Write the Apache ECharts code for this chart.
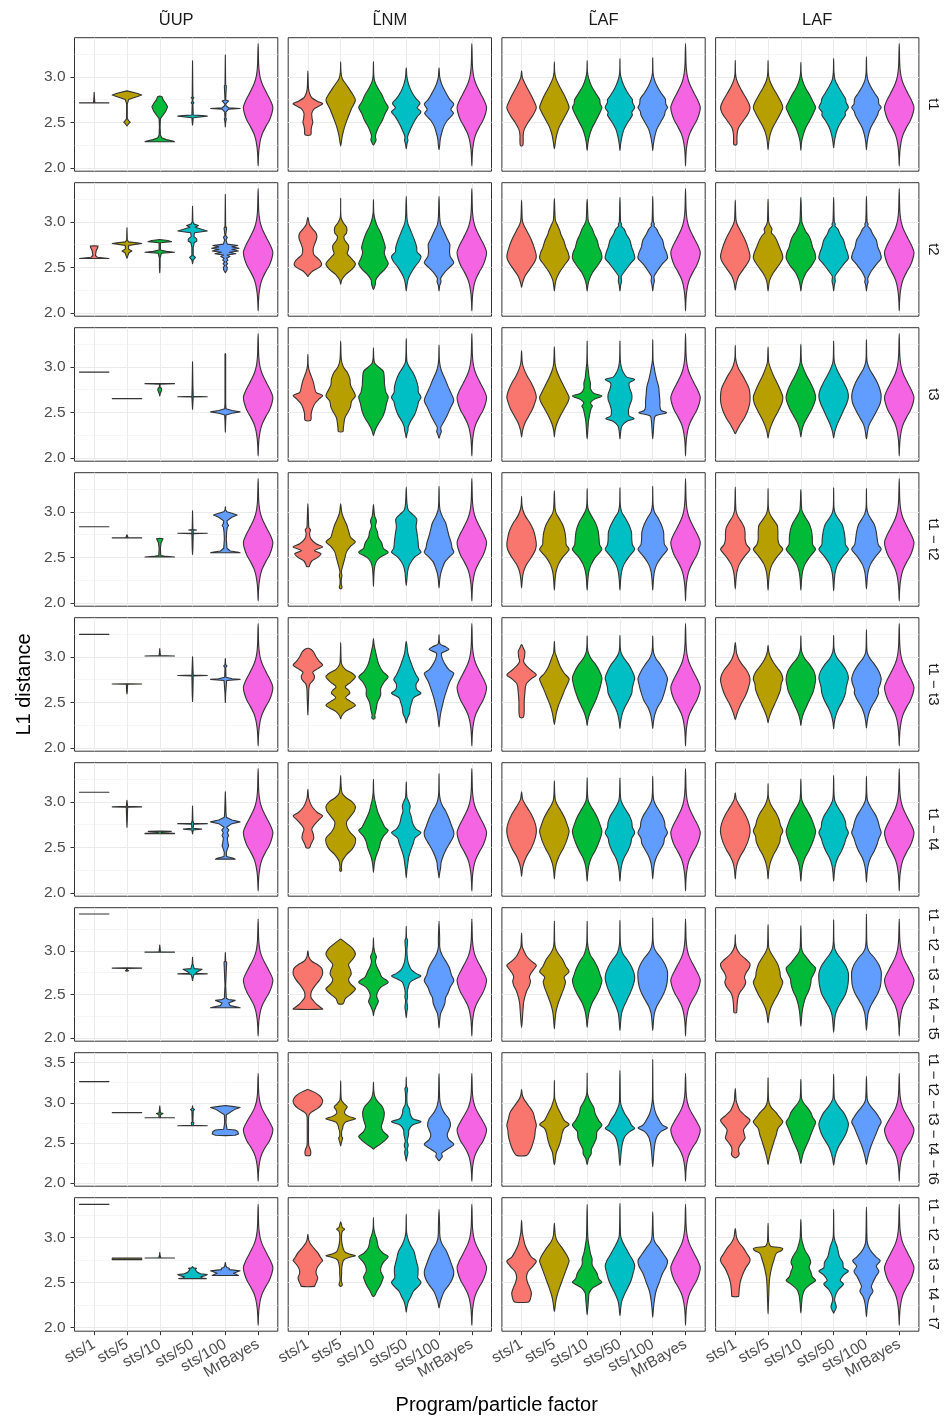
<!DOCTYPE html>
<html><head><meta charset="utf-8">
<script src="https://cdn.jsdelivr.net/npm/echarts@6/dist/echarts.min.js"></script>
<style>html,body{margin:0;padding:0;background:#fff}#c{width:947px;height:1418px}</style>
</head><body><div id="c"></div>
<script>
// ---------------- data ----------------
const categories = ['sts/1','sts/5','sts/10','sts/50','sts/100','MrBayes'];
const methods = ['\u0168UP','L\u0303NM','L\u0303AF','LAF'];
const rowLabels = ['t1','t2','t3','t1 \u2212 t2','t1 \u2212 t3','t1 \u2212 t4',
  't1 \u2212 t2 \u2212 t3 \u2212 t4 \u2212 t5','t1 \u2212 t2 \u2212 t3 \u2212 t4 \u2212 t6','t1 \u2212 t2 \u2212 t3 \u2212 t4 \u2212 t7'];
const yRange = [[1.963,3.43],[1.963,3.43],[1.963,3.43],[1.963,3.43],[1.963,3.43],[1.963,3.43],[1.961,3.495],[1.958,3.625],[1.956,3.44]];
const yTicks = [[2,2.5,3],[2,2.5,3],[2,2.5,3],[2,2.5,3],[2,2.5,3],[2,2.5,3],[2,2.5,3],[2,2.5,3,3.5],[2,2.5,3]];
const yMinorTicks = [2.25,2.75,3.25];
const xTicks = [1,2,3,4,5,6];

// each violin: [value, half-width (in category units)] from bottom to top
const mrBayes = [[2.022,0],[2.12,0.01],[2.2,0.025],[2.267,0.05],[2.32,0.08],[2.377,0.13],[2.45,0.23],[2.52,0.34],[2.6,0.42],[2.665,0.45],[2.72,0.4],[2.78,0.32],[2.85,0.22],[2.927,0.12],[3.0,0.06],[3.073,0.03],[3.15,0.015],[3.366,0]];

const t1_UUP = [
 [[2.714,0.45],[2.718,0.02],[2.76,0.01],[2.83,0]],
 [[2.46,0],[2.49,0.06],[2.5,0.1],[2.515,0.06],[2.54,0.01],[2.7,0.01],[2.75,0.05],[2.78,0.3],[2.8,0.45],[2.82,0.3],[2.846,0]],
 [[2.286,0.45],[2.295,0.4],[2.31,0.2],[2.33,0.06],[2.36,0.02],[2.45,0.01],[2.54,0.02],[2.57,0.08],[2.62,0.18],[2.67,0.24],[2.71,0.18],[2.75,0.1],[2.78,0.07],[2.79,0]],
 [[2.47,0],[2.5,0.01],[2.55,0.02],[2.562,0.3],[2.568,0.45],[2.574,0.3],[2.58,0.02],[2.7,0.01],[2.714,0.04],[2.73,0.01],[2.76,0.01],[2.77,0.04],[2.78,0.01],[3.176,0]],
 [[2.45,0],[2.5,0.01],[2.54,0.03],[2.55,0.01],[2.6,0.02],[2.61,0.01],[2.645,0.1],[2.652,0.45],[2.66,0.1],[2.68,0.03],[2.7,0.01],[2.735,0.1],[2.745,0.01],[2.9,0.03],[2.91,0.01],[3.24,0]]
];
const t1_LNM = [
 [[2.36,0.08],[2.38,0.1],[2.42,0.1],[2.46,0.12],[2.5,0.15],[2.54,0.13],[2.6,0.12],[2.65,0.2],[2.69,0.4],[2.707,0.45],[2.73,0.3],[2.77,0.12],[2.82,0.05],[2.87,0.02],[2.95,0.01],[3.066,0]],
 [[2.24,0],[2.28,0.02],[2.35,0.05],[2.45,0.12],[2.55,0.22],[2.65,0.33],[2.744,0.45],[2.8,0.38],[2.9,0.2],[2.98,0.05],[3.05,0.01],[3.165,0]],
 [[2.25,0],[2.28,0.05],[2.31,0.08],[2.34,0.06],[2.38,0.08],[2.45,0.16],[2.52,0.27],[2.6,0.36],[2.663,0.45],[2.72,0.36],[2.8,0.26],[2.88,0.13],[2.95,0.04],[3.02,0.01],[3.168,0]],
 [[2.21,0],[2.26,0.02],[2.3,0.05],[2.34,0.04],[2.4,0.1],[2.48,0.2],[2.56,0.33],[2.615,0.45],[2.66,0.33],[2.71,0.42],[2.76,0.3],[2.84,0.16],[2.92,0.07],[3.0,0.02],[3.1,0]],
 [[2.2,0],[2.25,0.02],[2.32,0.04],[2.38,0.08],[2.45,0.14],[2.52,0.25],[2.6,0.44],[2.64,0.36],[2.7,0.45],[2.75,0.33],[2.83,0.2],[2.92,0.08],[3.0,0.02],[3.1,0]]
];
const t1_LAFt = [
 [[2.24,0],[2.25,0.04],[2.3,0.05],[2.36,0.05],[2.42,0.08],[2.5,0.2],[2.58,0.35],[2.663,0.45],[2.74,0.37],[2.82,0.26],[2.9,0.14],[2.96,0.06],[3.0,0.02],[3.066,0]],
 [[2.21,0],[2.28,0.03],[2.36,0.07],[2.45,0.15],[2.55,0.3],[2.62,0.4],[2.663,0.45],[2.72,0.4],[2.8,0.3],[2.9,0.15],[2.98,0.05],[3.05,0.01],[3.165,0]],
 [[2.19,0],[2.26,0.02],[2.34,0.06],[2.43,0.14],[2.52,0.27],[2.6,0.38],[2.663,0.45],[2.7,0.4],[2.75,0.38],[2.82,0.26],[2.9,0.13],[2.98,0.05],[3.05,0.01],[3.18,0]],
 [[2.187,0],[2.26,0.02],[2.34,0.06],[2.42,0.12],[2.5,0.24],[2.58,0.38],[2.61,0.36],[2.663,0.45],[2.72,0.38],[2.75,0.38],[2.8,0.28],[2.88,0.15],[2.96,0.06],[3.04,0.01],[3.2,0]],
 [[2.187,0],[2.26,0.02],[2.34,0.06],[2.42,0.12],[2.5,0.24],[2.58,0.36],[2.62,0.38],[2.663,0.45],[2.7,0.4],[2.76,0.38],[2.82,0.26],[2.9,0.13],[2.97,0.05],[3.04,0.01],[3.21,0]]
];
const t1_LAF = [
 [[2.25,0],[2.26,0.05],[2.32,0.05],[2.38,0.06],[2.44,0.1],[2.52,0.25],[2.6,0.4],[2.663,0.45],[2.74,0.37],[2.82,0.24],[2.9,0.12],[2.97,0.04],[3.03,0.01],[3.18,0]],
 [[2.2,0],[2.28,0.02],[2.36,0.06],[2.44,0.14],[2.52,0.26],[2.6,0.38],[2.663,0.45],[2.72,0.4],[2.8,0.28],[2.88,0.15],[2.96,0.05],[3.04,0.01],[3.18,0]],
 [[2.19,0],[2.28,0.02],[2.36,0.07],[2.44,0.15],[2.52,0.27],[2.6,0.38],[2.663,0.45],[2.72,0.38],[2.8,0.27],[2.88,0.14],[2.96,0.05],[3.04,0.01],[3.16,0]],
 [[2.22,0],[2.28,0.02],[2.36,0.06],[2.44,0.13],[2.52,0.25],[2.58,0.36],[2.61,0.35],[2.663,0.45],[2.72,0.38],[2.76,0.36],[2.82,0.26],[2.9,0.13],[2.97,0.04],[3.05,0.01],[3.2,0]],
 [[2.2,0],[2.28,0.02],[2.36,0.06],[2.44,0.13],[2.52,0.25],[2.58,0.34],[2.62,0.37],[2.663,0.45],[2.7,0.38],[2.76,0.36],[2.82,0.25],[2.9,0.12],[2.97,0.04],[3.05,0.01],[3.22,0]]
];

const t2_UUP = [
 [[2.597,0.45],[2.603,0.3],[2.61,0.1],[2.63,0.04],[2.68,0.06],[2.72,0.11],[2.735,0.12],[2.737,0]],
 [[2.6,0],[2.62,0.02],[2.66,0.06],[2.68,0.15],[2.7,0.05],[2.74,0.05],[2.755,0.3],[2.762,0.45],[2.77,0.3],[2.78,0.05],[2.8,0.01],[2.934,0]],
 [[2.44,0],[2.5,0.01],[2.6,0.01],[2.655,0.05],[2.665,0.45],[2.675,0.2],[2.69,0.02],[2.77,0.02],[2.782,0.36],[2.795,0.25],[2.806,0]],
 [[2.54,0],[2.58,0.02],[2.61,0.09],[2.63,0.02],[2.72,0.02],[2.77,0.05],[2.79,0.13],[2.81,0.13],[2.84,0.04],[2.88,0.06],[2.9,0.45],[2.915,0.3],[2.94,0.08],[2.96,0.18],[2.975,0.05],[3.0,0.01],[3.17,0]],
 [[2.44,0],[2.47,0.05],[2.5,0.06],[2.52,0.02],[2.54,0.07],[2.56,0.02],[2.58,0.08],[2.6,0.04],[2.62,0.14],[2.635,0.05],[2.65,0.32],[2.665,0.12],[2.68,0.4],[2.695,0.2],[2.71,0.42],[2.725,0.2],[2.74,0.38],[2.755,0.06],[2.8,0.02],[2.83,0.06],[2.85,0.01],[2.93,0.04],[2.95,0.01],[3.3,0]]
];
const t2_LNM = [
 [[2.4,0],[2.42,0.04],[2.46,0.15],[2.5,0.35],[2.53,0.42],[2.57,0.38],[2.6,0.3],[2.64,0.18],[2.7,0.16],[2.75,0.2],[2.82,0.27],[2.87,0.26],[2.92,0.15],[2.97,0.05],[3.05,0]],
 [[2.315,0],[2.36,0.03],[2.42,0.15],[2.48,0.35],[2.54,0.45],[2.6,0.32],[2.65,0.2],[2.7,0.24],[2.74,0.24],[2.8,0.12],[2.84,0.1],[2.88,0.18],[2.94,0.18],[2.99,0.08],[3.05,0.01],[3.256,0]],
 [[2.256,0],[2.28,0.03],[2.32,0.06],[2.36,0.07],[2.42,0.18],[2.48,0.35],[2.54,0.45],[2.6,0.38],[2.66,0.33],[2.72,0.36],[2.8,0.3],[2.88,0.22],[2.95,0.12],[3.02,0.05],[3.1,0.01],[3.245,0]],
 [[2.24,0],[2.3,0.02],[2.36,0.05],[2.42,0.12],[2.5,0.25],[2.57,0.4],[2.62,0.45],[2.67,0.33],[2.72,0.32],[2.8,0.25],[2.9,0.14],[2.98,0.05],[3.05,0.02],[3.28,0]],
 [[2.24,0],[2.3,0.02],[2.34,0.06],[2.38,0.05],[2.44,0.16],[2.5,0.32],[2.55,0.45],[2.62,0.34],[2.68,0.32],[2.75,0.33],[2.82,0.24],[2.9,0.14],[2.97,0.05],[3.05,0.02],[3.28,0]]
];
const t2_LAFt = [
 [[2.28,0],[2.33,0.03],[2.4,0.1],[2.48,0.25],[2.56,0.4],[2.62,0.45],[2.7,0.4],[2.8,0.3],[2.9,0.16],[2.97,0.06],[3.03,0.02],[3.24,0]],
 [[2.24,0],[2.3,0.02],[2.36,0.05],[2.44,0.15],[2.52,0.3],[2.6,0.45],[2.66,0.42],[2.72,0.35],[2.8,0.28],[2.86,0.2],[2.9,0.17],[2.96,0.1],[3.02,0.03],[3.256,0]],
 [[2.24,0],[2.3,0.02],[2.36,0.06],[2.44,0.16],[2.52,0.32],[2.6,0.45],[2.66,0.43],[2.72,0.36],[2.8,0.3],[2.86,0.22],[2.92,0.16],[2.97,0.08],[3.02,0.03],[3.25,0]],
 [[2.24,0],[2.3,0.02],[2.35,0.05],[2.4,0.04],[2.46,0.15],[2.54,0.32],[2.6,0.45],[2.66,0.42],[2.72,0.36],[2.8,0.3],[2.86,0.2],[2.92,0.13],[2.955,0.04],[2.975,0.05],[3.0,0.02],[3.27,0]],
 [[2.24,0],[2.3,0.02],[2.35,0.05],[2.4,0.04],[2.46,0.14],[2.54,0.3],[2.6,0.45],[2.66,0.42],[2.72,0.35],[2.8,0.3],[2.86,0.2],[2.92,0.12],[2.955,0.04],[2.975,0.05],[3.0,0.02],[3.28,0]]
];
const t2_LAF = [
 [[2.25,0],[2.32,0.03],[2.4,0.1],[2.48,0.25],[2.56,0.4],[2.62,0.45],[2.7,0.4],[2.8,0.3],[2.9,0.16],[2.97,0.06],[3.03,0.02],[3.24,0]],
 [[2.24,0],[2.3,0.02],[2.36,0.05],[2.44,0.16],[2.52,0.32],[2.6,0.45],[2.66,0.42],[2.72,0.35],[2.8,0.26],[2.85,0.18],[2.88,0.1],[2.92,0.12],[2.96,0.06],[3.0,0.02],[3.25,0]],
 [[2.24,0],[2.3,0.02],[2.36,0.06],[2.44,0.16],[2.52,0.33],[2.6,0.45],[2.66,0.43],[2.72,0.36],[2.8,0.3],[2.86,0.22],[2.9,0.14],[2.95,0.08],[3.0,0.03],[3.27,0]],
 [[2.24,0],[2.3,0.02],[2.35,0.05],[2.4,0.04],[2.46,0.15],[2.54,0.32],[2.6,0.45],[2.66,0.42],[2.72,0.36],[2.8,0.3],[2.86,0.2],[2.92,0.13],[2.955,0.04],[2.975,0.05],[3.0,0.02],[3.27,0]],
 [[2.24,0],[2.3,0.02],[2.34,0.05],[2.38,0.04],[2.46,0.15],[2.54,0.32],[2.6,0.45],[2.66,0.42],[2.72,0.35],[2.8,0.3],[2.86,0.2],[2.92,0.12],[2.955,0.04],[2.975,0.05],[3.0,0.02],[3.28,0]]
];

const t3_UUP = [
 [[2.942,0.45],[2.9425,0.45]],
 [[2.651,0.45],[2.6515,0.45]],
 [[2.68,0],[2.7,0.01],[2.745,0.06],[2.765,0.05],[2.775,0.01],[2.81,0.01],[2.814,0.45],[2.816,0.45],[2.8165,0]],
 [[2.535,0],[2.6,0.01],[2.668,0.02],[2.672,0.45],[2.675,0.02],[2.8,0.01],[3.055,0]],
 [[2.284,0],[2.4,0.01],[2.47,0.02],[2.49,0.2],[2.505,0.45],[2.52,0.2],[2.54,0.02],[2.6,0.01],[3.14,0.01],[3.145,0]]
];
const t3_LNM = [
 [[2.41,0.08],[2.43,0.1],[2.48,0.1],[2.54,0.14],[2.6,0.22],[2.65,0.35],[2.685,0.45],[2.72,0.25],[2.78,0.2],[2.84,0.16],[2.9,0.1],[2.96,0.04],[3.02,0.01],[3.138,0]],
 [[2.29,0.07],[2.32,0.08],[2.38,0.1],[2.44,0.13],[2.5,0.22],[2.56,0.3],[2.62,0.33],[2.68,0.45],[2.74,0.38],[2.8,0.3],[2.87,0.28],[2.94,0.2],[3.0,0.08],[3.08,0.02],[3.284,0]],
 [[2.247,0],[2.28,0.03],[2.32,0.07],[2.38,0.16],[2.45,0.28],[2.52,0.35],[2.6,0.4],[2.67,0.45],[2.72,0.38],[2.8,0.34],[2.88,0.33],[2.95,0.3],[3.0,0.15],[3.04,0.04],[3.1,0.01],[3.21,0]],
 [[2.218,0],[2.26,0.02],[2.3,0.05],[2.34,0.06],[2.4,0.13],[2.48,0.26],[2.56,0.34],[2.62,0.38],[2.665,0.45],[2.72,0.37],[2.78,0.36],[2.86,0.3],[2.94,0.2],[3.0,0.09],[3.06,0.02],[3.31,0]],
 [[2.215,0],[2.25,0.03],[2.29,0.07],[2.33,0.05],[2.38,0.12],[2.46,0.24],[2.55,0.35],[2.63,0.45],[2.7,0.38],[2.78,0.28],[2.87,0.18],[2.94,0.09],[3.0,0.04],[3.08,0.01],[3.24,0]]
];
const t3_LAFt = [
 [[2.23,0],[2.3,0.03],[2.38,0.1],[2.46,0.22],[2.54,0.34],[2.62,0.42],[2.67,0.45],[2.74,0.4],[2.82,0.3],[2.9,0.17],[2.98,0.07],[3.05,0.02],[3.175,0]],
 [[2.23,0],[2.3,0.02],[2.38,0.08],[2.46,0.18],[2.54,0.3],[2.62,0.42],[2.665,0.45],[2.72,0.38],[2.8,0.27],[2.88,0.16],[2.96,0.07],[3.04,0.02],[3.22,0]],
 [[2.207,0],[2.3,0.02],[2.4,0.04],[2.48,0.08],[2.54,0.12],[2.57,0.16],[2.6,0.1],[2.64,0.2],[2.68,0.45],[2.71,0.2],[2.76,0.1],[2.82,0.1],[2.88,0.06],[2.95,0.04],[3.05,0.01],[3.284,0]],
 [[2.207,0],[2.28,0.02],[2.35,0.06],[2.4,0.2],[2.43,0.43],[2.46,0.28],[2.52,0.26],[2.58,0.3],[2.64,0.36],[2.7,0.36],[2.76,0.3],[2.82,0.28],[2.86,0.45],[2.89,0.2],[2.94,0.1],[3.0,0.04],[3.08,0.01],[3.284,0]],
 [[2.207,0],[2.3,0.02],[2.4,0.04],[2.46,0.08],[2.495,0.42],[2.52,0.26],[2.56,0.22],[2.62,0.22],[2.7,0.2],[2.78,0.18],[2.86,0.12],[2.94,0.07],[3.0,0.04],[3.07,0.01],[3.3,0]]
];
const t3_LAF = [
 [[2.265,0],[2.3,0.05],[2.36,0.14],[2.44,0.28],[2.52,0.38],[2.6,0.44],[2.68,0.45],[2.76,0.42],[2.84,0.32],[2.92,0.2],[2.98,0.1],[3.04,0.04],[3.1,0.01],[3.236,0]],
 [[2.218,0],[2.28,0.03],[2.36,0.1],[2.44,0.2],[2.52,0.32],[2.6,0.42],[2.67,0.45],[2.74,0.38],[2.82,0.28],[2.9,0.17],[2.98,0.08],[3.05,0.02],[3.218,0]],
 [[2.23,0],[2.3,0.03],[2.38,0.1],[2.46,0.22],[2.54,0.34],[2.62,0.43],[2.67,0.45],[2.74,0.4],[2.82,0.3],[2.9,0.18],[2.98,0.08],[3.05,0.02],[3.247,0]],
 [[2.218,0],[2.28,0.03],[2.36,0.1],[2.44,0.2],[2.52,0.3],[2.6,0.4],[2.67,0.45],[2.74,0.42],[2.82,0.32],[2.9,0.2],[2.97,0.1],[3.04,0.03],[3.1,0.01],[3.284,0]],
 [[2.207,0],[2.28,0.03],[2.36,0.08],[2.44,0.2],[2.52,0.32],[2.6,0.42],[2.67,0.45],[2.74,0.42],[2.82,0.34],[2.9,0.22],[2.97,0.1],[3.04,0.03],[3.1,0.01],[3.3,0]]
];

const t12_UUP = [
 [[2.836,0.45],[2.8365,0.45]],
 [[2.714,0.45],[2.718,0.03],[2.74,0.01],[2.748,0]],
 [[2.503,0.45],[2.51,0.2],[2.52,0.03],[2.6,0.02],[2.66,0.04],[2.69,0.08],[2.705,0.1],[2.71,0]],
 [[2.535,0],[2.6,0.01],[2.76,0.02],[2.764,0.45],[2.768,0.02],[2.795,0.02],[2.8,0.12],[2.805,0.01],[3.01,0]],
 [[2.55,0.45],[2.555,0.4],[2.57,0.15],[2.6,0.05],[2.7,0.03],[2.78,0.04],[2.83,0.06],[2.85,0.1],[2.87,0.06],[2.9,0.05],[2.94,0.2],[2.965,0.36],[2.985,0.2],[3.0,0.05],[3.02,0.01],[3.055,0]]
];
const t12_LNM = [
 [[2.4,0.04],[2.42,0.06],[2.46,0.12],[2.5,0.3],[2.54,0.4],[2.575,0.2],[2.615,0.45],[2.65,0.25],[2.7,0.1],[2.76,0.05],[2.8,0.08],[2.83,0.03],[2.9,0.02],[3.09,0]],
 [[2.153,0],[2.16,0.03],[2.18,0.04],[2.2,0.02],[2.26,0.02],[2.3,0.04],[2.34,0.02],[2.4,0.06],[2.48,0.12],[2.56,0.18],[2.62,0.3],[2.67,0.45],[2.72,0.3],[2.78,0.25],[2.86,0.18],[2.94,0.08],[3.0,0.03],[3.087,0]],
 [[2.18,0],[2.28,0.01],[2.38,0.03],[2.45,0.08],[2.5,0.2],[2.555,0.45],[2.6,0.3],[2.66,0.25],[2.72,0.15],[2.78,0.12],[2.84,0.06],[2.9,0.09],[2.95,0.04],[3.0,0.02],[3.08,0]],
 [[2.19,0],[2.26,0.02],[2.34,0.04],[2.42,0.1],[2.5,0.25],[2.555,0.45],[2.6,0.38],[2.68,0.36],[2.76,0.33],[2.84,0.3],[2.92,0.32],[2.97,0.2],[3.02,0.06],[3.1,0.02],[3.27,0]],
 [[2.164,0],[2.25,0.02],[2.32,0.05],[2.38,0.1],[2.45,0.18],[2.5,0.3],[2.555,0.45],[2.6,0.4],[2.66,0.37],[2.74,0.3],[2.8,0.26],[2.88,0.2],[2.95,0.1],[3.02,0.03],[3.1,0.01],[3.28,0]]
];
const t12_LAFt = [
 [[2.164,0],[2.25,0.02],[2.34,0.06],[2.42,0.15],[2.5,0.3],[2.58,0.42],[2.64,0.45],[2.72,0.42],[2.8,0.36],[2.88,0.25],[2.95,0.12],[3.02,0.04],[3.08,0.01],[3.17,0]],
 [[2.14,0],[2.25,0.02],[2.34,0.05],[2.42,0.12],[2.5,0.25],[2.56,0.4],[2.59,0.45],[2.64,0.36],[2.7,0.35],[2.78,0.32],[2.86,0.25],[2.92,0.16],[2.98,0.06],[3.04,0.02],[3.23,0]],
 [[2.14,0],[2.25,0.02],[2.34,0.05],[2.42,0.12],[2.5,0.25],[2.56,0.4],[2.59,0.45],[2.64,0.38],[2.72,0.36],[2.8,0.33],[2.88,0.25],[2.95,0.14],[3.02,0.04],[3.08,0.01],[3.255,0]],
 [[2.14,0],[2.25,0.02],[2.34,0.05],[2.42,0.12],[2.5,0.26],[2.56,0.4],[2.59,0.45],[2.64,0.38],[2.7,0.36],[2.78,0.35],[2.86,0.27],[2.94,0.15],[3.0,0.05],[3.08,0.01],[3.265,0]],
 [[2.14,0],[2.25,0.02],[2.34,0.05],[2.42,0.12],[2.5,0.26],[2.56,0.4],[2.59,0.45],[2.64,0.36],[2.7,0.34],[2.78,0.33],[2.86,0.26],[2.94,0.15],[3.0,0.05],[3.08,0.01],[3.28,0]]
];
const t12_LAF = [
 [[2.153,0],[2.25,0.02],[2.34,0.05],[2.42,0.12],[2.5,0.26],[2.56,0.4],[2.59,0.45],[2.64,0.34],[2.7,0.3],[2.76,0.3],[2.82,0.28],[2.88,0.2],[2.95,0.08],[3.02,0.02],[3.273,0]],
 [[2.14,0],[2.25,0.02],[2.34,0.05],[2.42,0.12],[2.5,0.26],[2.56,0.4],[2.59,0.45],[2.64,0.34],[2.7,0.3],[2.78,0.3],[2.85,0.28],[2.92,0.15],[2.98,0.05],[3.05,0.01],[3.255,0]],
 [[2.14,0],[2.25,0.02],[2.34,0.05],[2.42,0.12],[2.5,0.26],[2.56,0.4],[2.59,0.45],[2.64,0.36],[2.72,0.35],[2.8,0.32],[2.88,0.24],[2.95,0.12],[3.02,0.03],[3.244,0]],
 [[2.13,0],[2.25,0.02],[2.34,0.05],[2.42,0.12],[2.5,0.26],[2.56,0.4],[2.59,0.45],[2.64,0.36],[2.7,0.35],[2.78,0.32],[2.86,0.26],[2.92,0.15],[2.98,0.05],[3.05,0.01],[3.265,0]],
 [[2.153,0],[2.25,0.02],[2.34,0.05],[2.42,0.12],[2.5,0.26],[2.56,0.4],[2.59,0.45],[2.64,0.36],[2.7,0.33],[2.78,0.3],[2.86,0.24],[2.92,0.14],[2.98,0.05],[3.05,0.01],[3.255,0]]
];

const t13_UUP = [
 [[3.247,0.45],[3.2475,0.45]],
 [[2.593,0],[2.62,0.01],[2.698,0.02],[2.701,0.45],[2.703,0]],
 [[3.009,0.45],[3.013,0.02],[3.05,0.01],[3.09,0]],
 [[2.51,0],[2.6,0.01],[2.79,0.02],[2.795,0.45],[2.8,0.02],[2.9,0.01],[3.0,0]],
 [[2.498,0],[2.6,0.01],[2.74,0.04],[2.752,0.45],[2.758,0.2],[2.765,0.15],[2.775,0.02],[2.88,0.01],[2.9,0.05],[2.915,0.01],[2.982,0]]
];
const t13_LNM = [
 [[2.36,0],[2.45,0.01],[2.55,0.02],[2.65,0.03],[2.7,0.06],[2.75,0.18],[2.79,0.2],[2.83,0.15],[2.87,0.3],[2.91,0.45],[2.95,0.35],[3.0,0.25],[3.05,0.18],[3.08,0.1],[3.095,0]],
 [[2.32,0],[2.35,0.03],[2.4,0.15],[2.44,0.35],[2.47,0.45],[2.51,0.3],[2.55,0.15],[2.6,0.28],[2.63,0.25],[2.67,0.14],[2.72,0.3],[2.78,0.45],[2.82,0.35],[2.86,0.15],[2.92,0.03],[3.0,0.01],[3.156,0]],
 [[2.316,0],[2.33,0.05],[2.36,0.04],[2.42,0.08],[2.5,0.12],[2.58,0.22],[2.65,0.22],[2.72,0.32],[2.78,0.45],[2.84,0.28],[2.92,0.16],[3.0,0.1],[3.08,0.05],[3.13,0.02],[3.2,0]],
 [[2.27,0],[2.32,0.03],[2.38,0.1],[2.44,0.12],[2.5,0.17],[2.55,0.22],[2.6,0.45],[2.64,0.32],[2.7,0.3],[2.75,0.38],[2.8,0.3],[2.88,0.2],[2.96,0.12],[3.04,0.05],[3.17,0]],
 [[2.23,0],[2.3,0.02],[2.38,0.05],[2.46,0.1],[2.55,0.16],[2.65,0.25],[2.72,0.32],[2.79,0.42],[2.82,0.45],[2.86,0.3],[2.92,0.18],[2.98,0.1],[3.04,0.08],[3.08,0.3],[3.11,0.2],[3.14,0.03],[3.244,0]]
];
const t13_LAFt = [
 [[2.33,0.02],[2.34,0.06],[2.4,0.08],[2.5,0.08],[2.6,0.1],[2.7,0.14],[2.76,0.3],[2.8,0.45],[2.85,0.3],[2.9,0.15],[2.95,0.06],[3.0,0.09],[3.06,0.1],[3.1,0.05],[3.135,0]],
 [[2.255,0],[2.3,0.02],[2.38,0.06],[2.46,0.12],[2.55,0.22],[2.64,0.32],[2.72,0.42],[2.76,0.45],[2.82,0.3],[2.9,0.17],[3.0,0.07],[3.05,0.02],[3.17,0]],
 [[2.245,0],[2.3,0.02],[2.38,0.08],[2.46,0.18],[2.54,0.28],[2.62,0.36],[2.7,0.42],[2.77,0.45],[2.84,0.38],[2.92,0.25],[2.98,0.12],[3.04,0.04],[3.1,0.01],[3.23,0]],
 [[2.21,0],[2.28,0.02],[2.36,0.06],[2.44,0.14],[2.52,0.26],[2.6,0.36],[2.66,0.38],[2.72,0.42],[2.77,0.45],[2.84,0.38],[2.92,0.26],[2.98,0.13],[3.04,0.04],[3.1,0.01],[3.236,0]],
 [[2.21,0],[2.28,0.02],[2.36,0.06],[2.44,0.14],[2.52,0.27],[2.58,0.33],[2.64,0.38],[2.7,0.42],[2.76,0.45],[2.84,0.36],[2.92,0.22],[2.98,0.1],[3.04,0.03],[3.1,0.01],[3.23,0]]
];
const t13_LAF = [
 [[2.31,0],[2.36,0.04],[2.42,0.1],[2.5,0.2],[2.58,0.32],[2.66,0.4],[2.74,0.45],[2.8,0.42],[2.86,0.33],[2.92,0.2],[2.98,0.1],[3.04,0.04],[3.156,0]],
 [[2.276,0],[2.33,0.03],[2.4,0.1],[2.48,0.2],[2.56,0.3],[2.64,0.38],[2.7,0.4],[2.76,0.45],[2.82,0.4],[2.88,0.28],[2.94,0.16],[3.0,0.07],[3.06,0.02],[3.127,0]],
 [[2.245,0],[2.3,0.02],[2.38,0.08],[2.46,0.18],[2.54,0.28],[2.62,0.38],[2.7,0.43],[2.76,0.45],[2.84,0.4],[2.92,0.26],[2.98,0.12],[3.04,0.04],[3.1,0.01],[3.23,0]],
 [[2.21,0],[2.28,0.02],[2.36,0.07],[2.44,0.16],[2.52,0.28],[2.6,0.36],[2.66,0.38],[2.72,0.42],[2.77,0.45],[2.84,0.4],[2.92,0.26],[2.98,0.12],[3.04,0.04],[3.1,0.01],[3.236,0]],
 [[2.218,0],[2.28,0.02],[2.36,0.06],[2.44,0.14],[2.52,0.27],[2.6,0.37],[2.64,0.36],[2.7,0.42],[2.76,0.45],[2.84,0.38],[2.92,0.24],[2.98,0.11],[3.04,0.03],[3.1,0.01],[3.3,0]]
];

const t14_UUP = [
 [[3.105,0.45],[3.1055,0.45]],
 [[2.72,0],[2.8,0.01],[2.94,0.02],[2.945,0.45],[2.95,0.02],[3.018,0]],
 [[2.65,0.45],[2.655,0.45],[2.66,0.05],[2.67,0.05],[2.675,0.35],[2.68,0]],
 [[2.647,0],[2.69,0.02],[2.7,0.28],[2.71,0.02],[2.755,0.03],[2.76,0.45],[2.765,0.03],[2.8,0.01],[2.953,0]],
 [[2.37,0.3],[2.38,0.25],[2.4,0.04],[2.44,0.03],[2.47,0.05],[2.52,0.1],[2.55,0.08],[2.6,0.06],[2.63,0.1],[2.66,0.06],[2.69,0.11],[2.72,0.04],[2.76,0.2],[2.78,0.45],[2.8,0.2],[2.83,0.03],[2.88,0.02],[3.11,0]]
];
const t14_LNM = [
 [[2.49,0],[2.5,0.06],[2.54,0.1],[2.6,0.18],[2.65,0.16],[2.7,0.12],[2.75,0.2],[2.8,0.33],[2.845,0.45],[2.88,0.3],[2.94,0.14],[3.0,0.06],[3.05,0.02],[3.138,0]],
 [[2.236,0],[2.25,0.03],[2.28,0.02],[2.35,0.05],[2.42,0.18],[2.48,0.35],[2.54,0.44],[2.6,0.45],[2.66,0.3],[2.72,0.2],[2.78,0.18],[2.84,0.3],[2.9,0.42],[2.95,0.45],[3.0,0.35],[3.05,0.15],[3.1,0.04],[3.2,0.01],[3.29,0]],
 [[2.225,0],[2.3,0.02],[2.38,0.06],[2.44,0.12],[2.5,0.18],[2.56,0.22],[2.62,0.3],[2.685,0.45],[2.72,0.35],[2.8,0.24],[2.88,0.14],[2.96,0.08],[3.02,0.04],[3.1,0.01],[3.247,0]],
 [[2.164,0],[2.25,0.02],[2.33,0.05],[2.4,0.08],[2.48,0.15],[2.55,0.22],[2.6,0.26],[2.66,0.45],[2.7,0.3],[2.76,0.2],[2.84,0.15],[2.9,0.1],[2.95,0.12],[3.0,0.08],[3.05,0.02],[3.22,0]],
 [[2.164,0],[2.22,0.02],[2.28,0.05],[2.33,0.06],[2.4,0.12],[2.48,0.22],[2.56,0.35],[2.62,0.44],[2.67,0.45],[2.74,0.38],[2.82,0.3],[2.9,0.2],[2.96,0.1],[3.02,0.04],[3.1,0.01],[3.31,0]]
];
const t14_LAFt = [
 [[2.18,0],[2.25,0.02],[2.32,0.06],[2.4,0.15],[2.48,0.28],[2.56,0.38],[2.64,0.44],[2.7,0.45],[2.78,0.4],[2.86,0.3],[2.92,0.2],[2.98,0.1],[3.03,0.03],[3.11,0]],
 [[2.153,0],[2.24,0.02],[2.32,0.06],[2.4,0.14],[2.48,0.26],[2.56,0.36],[2.64,0.43],[2.68,0.45],[2.74,0.4],[2.82,0.32],[2.9,0.2],[2.96,0.1],[3.02,0.03],[3.1,0.01],[3.23,0]],
 [[2.127,0],[2.22,0.02],[2.3,0.05],[2.38,0.12],[2.46,0.24],[2.54,0.34],[2.62,0.42],[2.68,0.45],[2.74,0.4],[2.82,0.32],[2.9,0.2],[2.96,0.1],[3.02,0.03],[3.1,0.01],[3.265,0]],
 [[2.127,0],[2.22,0.02],[2.3,0.05],[2.38,0.12],[2.46,0.24],[2.54,0.33],[2.6,0.36],[2.66,0.45],[2.72,0.38],[2.78,0.36],[2.84,0.3],[2.9,0.2],[2.96,0.1],[3.02,0.03],[3.1,0.01],[3.262,0]],
 [[2.153,0],[2.24,0.02],[2.32,0.05],[2.4,0.12],[2.48,0.24],[2.54,0.33],[2.6,0.36],[2.66,0.45],[2.72,0.38],[2.78,0.36],[2.84,0.3],[2.9,0.2],[2.96,0.1],[3.02,0.03],[3.1,0.01],[3.28,0]]
];
const t14_LAF = [
 [[2.153,0],[2.24,0.02],[2.32,0.06],[2.4,0.15],[2.48,0.28],[2.56,0.38],[2.64,0.44],[2.7,0.45],[2.78,0.4],[2.86,0.3],[2.92,0.2],[2.98,0.1],[3.03,0.03],[3.1,0]],
 [[2.153,0],[2.24,0.02],[2.32,0.06],[2.4,0.14],[2.48,0.26],[2.56,0.36],[2.62,0.38],[2.68,0.45],[2.74,0.38],[2.8,0.34],[2.88,0.24],[2.94,0.13],[3.0,0.05],[3.06,0.01],[3.2,0]],
 [[2.127,0],[2.22,0.02],[2.3,0.05],[2.38,0.12],[2.46,0.24],[2.54,0.34],[2.62,0.42],[2.68,0.45],[2.74,0.4],[2.82,0.32],[2.9,0.2],[2.96,0.1],[3.02,0.03],[3.1,0.01],[3.25,0]],
 [[2.127,0],[2.22,0.02],[2.3,0.05],[2.38,0.12],[2.46,0.24],[2.54,0.33],[2.6,0.38],[2.66,0.45],[2.72,0.38],[2.78,0.36],[2.84,0.3],[2.9,0.2],[2.96,0.1],[3.02,0.03],[3.1,0.01],[3.29,0]],
 [[2.118,0],[2.22,0.02],[2.3,0.05],[2.38,0.12],[2.46,0.24],[2.54,0.33],[2.6,0.38],[2.66,0.45],[2.72,0.4],[2.78,0.36],[2.84,0.3],[2.9,0.2],[2.96,0.1],[3.02,0.03],[3.1,0.01],[3.28,0]]
];

const t5_UUP = [
 [[3.422,0.45],[3.4225,0.45]],
 [[2.765,0],[2.77,0.05],[2.778,0.01],[2.798,0.01],[2.801,0.45],[2.803,0]],
 [[2.984,0.45],[2.988,0.02],[3.03,0.01],[3.065,0]],
 [[2.658,0],[2.7,0.02],[2.73,0.05],[2.735,0.45],[2.742,0.1],[2.76,0.15],[2.787,0.29],[2.795,0.05],[2.85,0.01],[2.924,0]],
 [[2.345,0.45],[2.352,0.4],[2.37,0.15],[2.4,0.1],[2.43,0.3],[2.44,0.1],[2.455,0.03],[2.6,0.01],[2.87,0.04],[2.88,0.01],[2.98,0]]
];
const t5_LNM = [
 [[2.33,0.45],[2.345,0.4],[2.38,0.28],[2.42,0.18],[2.46,0.1],[2.5,0.09],[2.54,0.12],[2.6,0.22],[2.66,0.35],[2.72,0.44],[2.76,0.45],[2.8,0.42],[2.84,0.3],[2.88,0.12],[2.93,0.03],[3.0,0]],
 [[2.39,0.07],[2.41,0.1],[2.45,0.14],[2.5,0.3],[2.56,0.45],[2.62,0.3],[2.67,0.24],[2.73,0.32],[2.78,0.3],[2.84,0.24],[2.9,0.36],[2.96,0.45],[3.02,0.38],[3.08,0.2],[3.12,0.06],[3.135,0]],
 [[2.255,0],[2.3,0.02],[2.36,0.08],[2.42,0.15],[2.47,0.1],[2.52,0.12],[2.58,0.22],[2.64,0.45],[2.7,0.25],[2.76,0.18],[2.83,0.09],[2.88,0.06],[2.93,0.09],[2.98,0.04],[3.05,0.01],[3.148,0]],
 [[2.23,0],[2.3,0.02],[2.35,0.04],[2.42,0.02],[2.47,0.04],[2.52,0.03],[2.58,0.06],[2.64,0.12],[2.68,0.3],[2.71,0.45],[2.74,0.3],[2.78,0.16],[2.84,0.08],[2.9,0.04],[3.0,0.02],[3.12,0.04],[3.15,0.01],[3.28,0]],
 [[2.114,0],[2.2,0.02],[2.28,0.05],[2.34,0.12],[2.4,0.18],[2.46,0.2],[2.52,0.28],[2.58,0.34],[2.66,0.45],[2.72,0.38],[2.8,0.32],[2.86,0.24],[2.92,0.14],[2.98,0.06],[3.05,0.02],[3.14,0.02],[3.34,0]]
];
const t5_LAFt = [
 [[2.12,0],[2.2,0.02],[2.3,0.04],[2.4,0.06],[2.47,0.1],[2.54,0.16],[2.6,0.24],[2.65,0.27],[2.7,0.24],[2.75,0.3],[2.8,0.4],[2.835,0.45],[2.88,0.3],[2.94,0.15],[3.0,0.07],[3.05,0.02],[3.205,0]],
 [[2.103,0],[2.2,0.02],[2.3,0.05],[2.4,0.12],[2.5,0.22],[2.58,0.3],[2.64,0.34],[2.7,0.3],[2.76,0.45],[2.82,0.35],[2.9,0.25],[2.98,0.1],[3.04,0.03],[3.1,0.01],[3.342,0]],
 [[2.12,0],[2.2,0.02],[2.3,0.06],[2.4,0.15],[2.5,0.3],[2.58,0.4],[2.66,0.45],[2.72,0.4],[2.8,0.33],[2.88,0.22],[2.95,0.1],[3.02,0.04],[3.1,0.01],[3.34,0]],
 [[2.084,0],[2.18,0.02],[2.28,0.05],[2.36,0.12],[2.44,0.22],[2.52,0.32],[2.6,0.4],[2.68,0.45],[2.74,0.43],[2.82,0.35],[2.9,0.22],[2.96,0.1],[3.02,0.04],[3.1,0.01],[3.35,0]],
 [[2.084,0],[2.18,0.02],[2.28,0.05],[2.36,0.12],[2.44,0.24],[2.52,0.35],[2.6,0.42],[2.68,0.45],[2.76,0.45],[2.84,0.38],[2.92,0.25],[2.98,0.12],[3.04,0.04],[3.12,0.01],[3.38,0]]
];
const t5_LAF = [
 [[2.285,0],[2.29,0.04],[2.34,0.05],[2.4,0.06],[2.46,0.08],[2.52,0.14],[2.58,0.26],[2.64,0.32],[2.69,0.28],[2.74,0.32],[2.8,0.42],[2.85,0.45],[2.9,0.33],[2.96,0.15],[3.02,0.05],[3.08,0.01],[3.186,0]],
 [[2.17,0],[2.26,0.03],[2.34,0.08],[2.42,0.18],[2.5,0.3],[2.58,0.4],[2.64,0.45],[2.7,0.38],[2.76,0.36],[2.84,0.3],[2.92,0.18],[2.98,0.08],[3.04,0.02],[3.3,0]],
 [[2.133,0],[2.22,0.02],[2.3,0.04],[2.38,0.08],[2.46,0.14],[2.54,0.24],[2.62,0.3],[2.68,0.32],[2.74,0.4],[2.8,0.45],[2.86,0.3],[2.92,0.18],[2.98,0.06],[3.04,0.02],[3.29,0]],
 [[2.065,0],[2.16,0.02],[2.26,0.05],[2.34,0.12],[2.42,0.24],[2.5,0.36],[2.58,0.42],[2.66,0.45],[2.74,0.45],[2.82,0.38],[2.9,0.24],[2.96,0.12],[3.02,0.04],[3.1,0.01],[3.357,0]],
 [[2.087,0],[2.18,0.02],[2.28,0.05],[2.36,0.12],[2.44,0.24],[2.52,0.36],[2.6,0.43],[2.68,0.45],[2.76,0.45],[2.84,0.38],[2.92,0.24],[2.98,0.1],[3.04,0.03],[3.12,0.01],[3.42,0]]
];

const t6_UUP = [
 [[3.264,0.45],[3.2645,0.45]],
 [[2.876,0.45],[2.8765,0.45]],
 [[2.812,0.45],[2.816,0.02],[2.85,0.03],[2.865,0.1],[2.875,0.02],[2.96,0]],
 [[2.713,0.45],[2.717,0.02],[2.75,0.04],[2.76,0.01],[2.9,0.02],[2.915,0.06],[2.93,0.01],[2.963,0]],
 [[2.59,0],[2.595,0.3],[2.61,0.4],[2.64,0.38],[2.66,0.3],[2.67,0.05],[2.75,0.02],[2.85,0.03],[2.92,0.3],[2.94,0.45],[2.955,0.2],[2.965,0]]
];
const t6_LNM = [
 [[2.34,0.06],[2.35,0.08],[2.38,0.09],[2.42,0.07],[2.46,0.03],[2.5,0.02],[2.7,0.02],[2.84,0.03],[2.88,0.1],[2.93,0.3],[2.98,0.42],[3.03,0.45],[3.08,0.38],[3.12,0.25],[3.15,0.1],[3.165,0]],
 [[2.46,0],[2.5,0.02],[2.54,0.05],[2.56,0.06],[2.58,0.03],[2.64,0.03],[2.68,0.06],[2.72,0.08],[2.76,0.15],[2.8,0.45],[2.83,0.25],[2.87,0.12],[2.91,0.14],[2.95,0.2],[2.99,0.1],[3.04,0.02],[3.273,0]],
 [[2.42,0],[2.44,0.05],[2.48,0.2],[2.53,0.35],[2.58,0.45],[2.64,0.3],[2.7,0.24],[2.76,0.28],[2.82,0.32],[2.88,0.33],[2.95,0.27],[3.02,0.12],[3.08,0.04],[3.15,0.01],[3.26,0]],
 [[2.27,0],[2.32,0.02],[2.38,0.05],[2.42,0.03],[2.47,0.06],[2.52,0.03],[2.6,0.07],[2.66,0.08],[2.72,0.18],[2.765,0.45],[2.8,0.2],[2.86,0.12],[2.92,0.1],[2.98,0.03],[3.1,0.02],[3.18,0.04],[3.2,0.01],[3.32,0]],
 [[2.277,0],[2.3,0.05],[2.33,0.1],[2.37,0.08],[2.42,0.25],[2.48,0.45],[2.54,0.3],[2.6,0.25],[2.66,0.3],[2.72,0.35],[2.8,0.3],[2.88,0.15],[2.96,0.06],[3.05,0.02],[3.364,0]]
];
const t6_LAFt = [
 [[2.34,0.14],[2.36,0.2],[2.42,0.28],[2.5,0.35],[2.58,0.4],[2.66,0.42],[2.72,0.45],[2.8,0.4],[2.88,0.35],[2.96,0.22],[3.04,0.08],[3.1,0.02],[3.165,0]],
 [[2.227,0],[2.3,0.03],[2.38,0.06],[2.46,0.14],[2.54,0.2],[2.62,0.24],[2.68,0.3],[2.73,0.45],[2.78,0.3],[2.86,0.2],[2.94,0.1],[3.0,0.05],[3.06,0.01],[3.28,0]],
 [[2.227,0],[2.3,0.04],[2.36,0.12],[2.42,0.13],[2.48,0.2],[2.56,0.28],[2.64,0.3],[2.72,0.45],[2.78,0.35],[2.86,0.25],[2.94,0.2],[3.0,0.12],[3.06,0.05],[3.12,0.01],[3.372,0]],
 [[2.215,0],[2.3,0.02],[2.4,0.04],[2.5,0.08],[2.58,0.15],[2.64,0.3],[2.68,0.45],[2.72,0.35],[2.78,0.28],[2.86,0.15],[2.94,0.06],[3.0,0.02],[3.1,0.01],[3.405,0]],
 [[2.2,0],[2.3,0.02],[2.4,0.04],[2.5,0.07],[2.58,0.13],[2.64,0.25],[2.685,0.45],[2.72,0.3],[2.78,0.2],[2.86,0.1],[2.95,0.04],[3.05,0.01],[3.54,0]]
];
const t6_LAF = [
 [[2.31,0],[2.33,0.08],[2.36,0.12],[2.4,0.1],[2.45,0.12],[2.5,0.2],[2.56,0.3],[2.6,0.28],[2.66,0.25],[2.72,0.35],[2.78,0.45],[2.84,0.3],[2.9,0.15],[2.96,0.08],[3.02,0.03],[3.178,0]],
 [[2.227,0],[2.3,0.03],[2.38,0.08],[2.46,0.14],[2.54,0.2],[2.6,0.25],[2.68,0.3],[2.76,0.45],[2.82,0.35],[2.88,0.24],[2.94,0.1],[3.0,0.03],[3.08,0.01],[3.314,0]],
 [[2.24,0],[2.3,0.03],[2.38,0.08],[2.46,0.16],[2.54,0.25],[2.62,0.32],[2.68,0.38],[2.76,0.45],[2.82,0.36],[2.88,0.3],[2.94,0.2],[3.0,0.08],[3.06,0.02],[3.293,0]],
 [[2.22,0],[2.3,0.03],[2.38,0.08],[2.46,0.16],[2.54,0.28],[2.62,0.38],[2.7,0.44],[2.74,0.45],[2.8,0.4],[2.88,0.3],[2.94,0.18],[3.0,0.08],[3.06,0.02],[3.355,0]],
 [[2.227,0],[2.3,0.03],[2.38,0.08],[2.46,0.14],[2.54,0.22],[2.62,0.3],[2.7,0.38],[2.76,0.45],[2.82,0.38],[2.88,0.28],[2.94,0.16],[3.0,0.06],[3.06,0.02],[3.33,0]]
];

const t7_UUP = [
 [[3.365,0.45],[3.3655,0.45]],
 [[2.752,0.45],[2.768,0.45],[2.77,0]],
 [[2.769,0.45],[2.773,0.03],[2.8,0.01],[2.83,0]],
 [[2.54,0.42],[2.548,0.3],[2.56,0.25],[2.575,0.4],[2.585,0.45],[2.595,0.25],[2.61,0.15],[2.625,0.12],[2.64,0.08],[2.655,0.12],[2.66,0.03],[2.675,0]],
 [[2.575,0.4],[2.585,0.35],[2.6,0.25],[2.615,0.35],[2.627,0.45],[2.64,0.12],[2.655,0.12],[2.665,0.05],[2.68,0.02],[2.72,0]]
];
const t7_LNM = [
 [[2.454,0.2],[2.47,0.22],[2.51,0.27],[2.55,0.3],[2.6,0.25],[2.66,0.28],[2.72,0.4],[2.74,0.45],[2.78,0.38],[2.83,0.3],[2.88,0.18],[2.94,0.06],[2.98,0.02],[3.033,0]],
 [[2.454,0],[2.47,0.05],[2.49,0.04],[2.52,0.02],[2.6,0.03],[2.64,0.03],[2.7,0.05],[2.75,0.1],[2.78,0.3],[2.795,0.45],[2.81,0.3],[2.84,0.12],[2.9,0.06],[2.96,0.03],[3.04,0.03],[3.07,0.06],[3.09,0.12],[3.11,0.05],[3.173,0]],
 [[2.34,0],[2.36,0.05],[2.4,0.1],[2.46,0.2],[2.52,0.27],[2.56,0.3],[2.62,0.22],[2.68,0.24],[2.73,0.32],[2.785,0.45],[2.82,0.3],[2.88,0.16],[2.94,0.12],[2.98,0.1],[3.03,0.05],[3.1,0.01],[3.218,0]],
 [[2.166,0],[2.22,0.02],[2.28,0.06],[2.34,0.14],[2.4,0.22],[2.46,0.38],[2.5,0.45],[2.55,0.35],[2.6,0.36],[2.66,0.36],[2.72,0.32],[2.78,0.28],[2.84,0.24],[2.92,0.12],[3.0,0.04],[3.06,0.01],[3.255,0]],
 [[2.214,0],[2.27,0.03],[2.33,0.08],[2.4,0.16],[2.48,0.32],[2.55,0.42],[2.62,0.45],[2.7,0.38],[2.78,0.3],[2.85,0.22],[2.92,0.1],[2.98,0.04],[3.05,0.02],[3.1,0.02],[3.31,0]]
];
const t7_LAFt = [
 [[2.277,0.18],[2.29,0.24],[2.33,0.28],[2.38,0.3],[2.44,0.25],[2.5,0.18],[2.56,0.15],[2.62,0.2],[2.68,0.35],[2.735,0.45],[2.78,0.3],[2.84,0.2],[2.92,0.1],[3.0,0.05],[3.06,0.02],[3.19,0]],
 [[2.173,0],[2.22,0.02],[2.28,0.04],[2.35,0.08],[2.44,0.16],[2.54,0.26],[2.64,0.36],[2.7,0.42],[2.74,0.45],[2.8,0.38],[2.88,0.24],[2.95,0.1],[3.02,0.03],[3.155,0]],
 [[2.14,0],[2.22,0.02],[2.3,0.04],[2.38,0.06],[2.44,0.18],[2.5,0.45],[2.54,0.35],[2.6,0.3],[2.66,0.2],[2.7,0.15],[2.76,0.15],[2.82,0.1],[2.9,0.06],[3.0,0.02],[3.365,0]],
 [[2.13,0],[2.2,0.02],[2.28,0.05],[2.35,0.12],[2.44,0.24],[2.52,0.34],[2.6,0.4],[2.68,0.45],[2.74,0.4],[2.8,0.3],[2.88,0.18],[2.95,0.08],[3.02,0.02],[3.376,0]],
 [[2.11,0],[2.2,0.02],[2.3,0.05],[2.4,0.1],[2.5,0.2],[2.6,0.3],[2.68,0.42],[2.74,0.45],[2.8,0.35],[2.88,0.2],[2.95,0.06],[3.02,0.02],[3.284,0]]
];
const t7_LAF = [
 [[2.343,0.1],[2.36,0.11],[2.42,0.12],[2.5,0.15],[2.58,0.22],[2.66,0.32],[2.72,0.43],[2.76,0.45],[2.82,0.35],[2.88,0.25],[2.94,0.12],[3.0,0.04],[3.096,0]],
 [[2.148,0],[2.25,0.01],[2.35,0.02],[2.45,0.03],[2.55,0.05],[2.65,0.1],[2.75,0.18],[2.82,0.25],[2.85,0.4],[2.875,0.45],[2.89,0.3],[2.9,0.08],[2.95,0.02],[3.155,0]],
 [[2.159,0],[2.25,0.02],[2.35,0.05],[2.42,0.12],[2.48,0.3],[2.52,0.45],[2.56,0.35],[2.62,0.3],[2.67,0.25],[2.72,0.3],[2.78,0.25],[2.86,0.12],[2.94,0.05],[3.0,0.02],[3.2,0]],
 [[2.155,0],[2.18,0.03],[2.22,0.08],[2.26,0.06],[2.3,0.03],[2.36,0.06],[2.42,0.15],[2.48,0.3],[2.52,0.2],[2.58,0.3],[2.625,0.45],[2.66,0.3],[2.72,0.28],[2.78,0.18],[2.84,0.14],[2.9,0.1],[2.96,0.04],[3.02,0.01],[3.31,0]],
 [[2.118,0],[2.2,0.02],[2.28,0.05],[2.34,0.1],[2.4,0.2],[2.45,0.15],[2.5,0.2],[2.56,0.28],[2.62,0.38],[2.68,0.3],[2.74,0.42],[2.78,0.3],[2.84,0.15],[2.9,0.06],[2.96,0.02],[3.336,0]]
];

const panels = [
 [t1_UUP, t1_LNM, t1_LAFt, t1_LAF],
 [t2_UUP, t2_LNM, t2_LAFt, t2_LAF],
 [t3_UUP, t3_LNM, t3_LAFt, t3_LAF],
 [t12_UUP, t12_LNM, t12_LAFt, t12_LAF],
 [t13_UUP, t13_LNM, t13_LAFt, t13_LAF],
 [t14_UUP, t14_LNM, t14_LAFt, t14_LAF],
 [t5_UUP, t5_LNM, t5_LAFt, t5_LAF],
 [t6_UUP, t6_LNM, t6_LAFt, t6_LAF],
 [t7_UUP, t7_LNM, t7_LAFt, t7_LAF]
];

// ---------------- styling / layout ----------------
const colors = ['#F8766D','#B79F00','#00BA38','#00BFC4','#619CFF','#F564E3'];
const FONT = "'Liberation Sans', Arial, Helvetica, sans-serif";
const L0 = 74.5, DX = 213.7, T0 = 37.7, DY = 145, W = 203.3, H = 133.5;
const NR = 9, NC = 4;

function makeRenderer(shapes, sharp) {
  return function (params, api) {
    const i = params.dataIndex;
    const pts = i < 5 ? shapes[i] : mrBayes;
    const cx = api.value(0);
    const poly = [];
    for (let k = 0; k < pts.length; k++) poly.push(api.coord([cx + pts[k][1], pts[k][0]]));
    for (let k = pts.length - 1; k >= 0; k--) {
      if (pts[k][1] === 0) continue;
      poly.push(api.coord([cx - pts[k][1], pts[k][0]]));
    }
    return {
      type: 'polygon',
      shape: { points: poly, smooth: (sharp && i < 5) ? 0 : 0.3 },
      style: { fill: colors[i], stroke: '#333333', lineWidth: 1.1, lineJoin: 'round' }
    };
  };
}

const grid = [], xAxis = [], yAxis = [], series = [], graphic = [];
for (let r = 0; r < NR; r++) {
  for (let c = 0; c < NC; c++) {
    const g = r * NC + c;
    grid.push({ left: L0 + DX * c, top: T0 + DY * r, width: W, height: H,
      show: true, borderColor: '#333333', borderWidth: 1, backgroundColor: '#ffffff' });
    const bottom = r === NR - 1;
    xAxis.push({ type: 'value', gridIndex: g, min: 0.4, max: 6.6, splitNumber: 6,
      axisLine: { show: false },
      axisTick: { show: bottom, customValues: xTicks, length: 4, lineStyle: { color: '#333333', width: 1 } },
      axisLabel: { show: bottom, customValues: xTicks, formatter: v => categories[Math.round(v) - 1] || '',
        rotate: 30, margin: 12, fontSize: 15.5, color: '#4D4D4D', fontFamily: FONT },
      splitLine: { show: true, lineStyle: { color: '#EBEBEB', width: 1 } } });
    yAxis.push({ type: 'value', gridIndex: g, min: yRange[r][0], max: yRange[r][1], splitNumber: 3,
      axisLine: { show: false },
      axisTick: { show: c === 0, customValues: yTicks[r], length: 4, lineStyle: { color: '#333333', width: 1 } },
      axisLabel: { show: c === 0, customValues: yTicks[r], formatter: v => v.toFixed(1),
        margin: 9, fontSize: 15.5, color: '#4D4D4D', fontFamily: FONT },
      splitLine: { show: true, lineStyle: { color: '#EBEBEB', width: 1 } } });
    series.push({ type: 'custom', coordinateSystem: 'cartesian2d', xAxisIndex: g, yAxisIndex: g,
      silent: true, animation: false,
      data: categories.map((name, i) => [i + 1, 2.5]),
      renderItem: makeRenderer(panels[r][c], c === 0) });
  }
}
// minor horizontal grid lines
for (let r = 0; r < NR; r++) {
  for (let c = 0; c < NC; c++) {
    const g = r * NC + c;
    yAxis.push({ type: 'value', gridIndex: g, min: yRange[r][0], max: yRange[r][1], splitNumber: 3,
      axisLine: { show: false },
      axisTick: { show: false, customValues: yMinorTicks },
      axisLabel: { show: false, customValues: yMinorTicks },
      splitLine: { show: true, lineStyle: { color: '#F0F0F0', width: 0.6 } } });
  }
}

for (let c = 0; c < NC; c++) {
  graphic.push({ type: 'text', x: L0 + DX * c + W / 2, y: 20, silent: true,
    style: { text: methods[c], fill: '#1A1A1A', font: '16.5px ' + FONT, align: 'center', verticalAlign: 'middle' } });
}
for (let r = 0; r < NR; r++) {
  graphic.push({ type: 'text', x: 933, y: T0 + DY * r + H / 2, rotation: -Math.PI / 2, silent: true,
    style: { text: rowLabels[r], fill: '#1A1A1A', font: '15px ' + FONT, align: 'center', verticalAlign: 'middle' } });
}
graphic.push({ type: 'text', x: 24, y: T0 + (DY * (NR - 1) + H) / 2, rotation: Math.PI / 2, silent: true,
  style: { text: 'L1 distance', fill: '#000000', font: '20px ' + FONT, align: 'center', verticalAlign: 'middle' } });
graphic.push({ type: 'text', x: L0 + (DX * (NC - 1) + W) / 2, y: 1405, silent: true,
  style: { text: 'Program/particle factor', fill: '#000000', font: '20px ' + FONT, align: 'center', verticalAlign: 'middle' } });

const chart = echarts.init(document.getElementById('c'), null, { renderer: 'canvas', devicePixelRatio: 1 });
chart.setOption({ animation: false, backgroundColor: '#ffffff', grid, xAxis, yAxis, series, graphic });
</script>
</body></html>
